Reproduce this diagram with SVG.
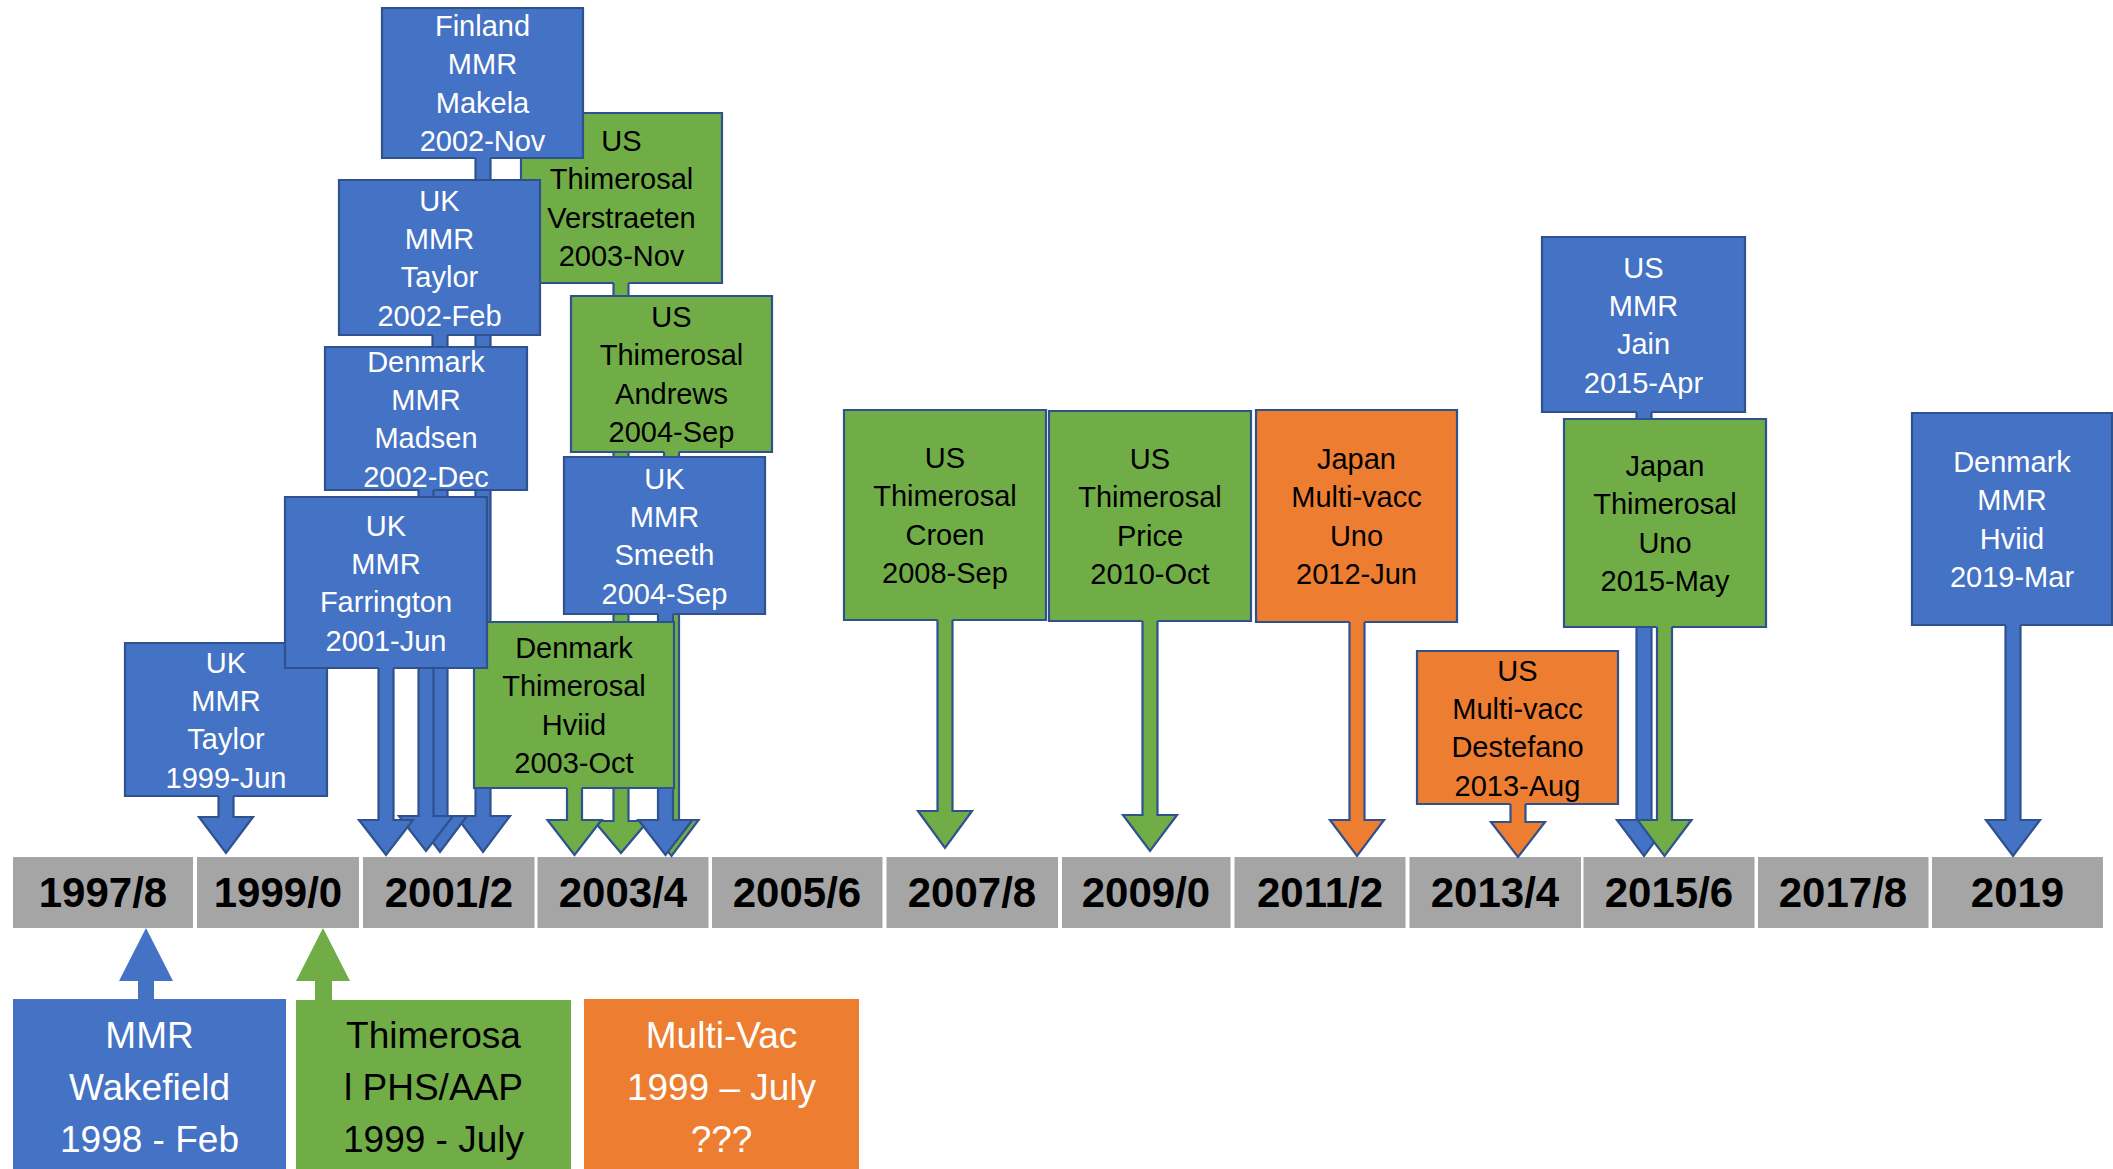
<svg xmlns="http://www.w3.org/2000/svg" width="2113" height="1169" viewBox="0 0 2113 1169">
<style>
.bg{fill:#FFFFFF}
.seg{fill:#A5A5A5}
.yr{font-family:"Liberation Sans",Arial,sans-serif;font-weight:bold;font-size:42px;fill:#000;text-anchor:middle}
.box{stroke:#2F528F;stroke-width:2.2;stroke-linejoin:miter}
.arr{stroke:#2F528F;stroke-width:2.2;stroke-linejoin:miter}
.blue{fill:#4472C4}
.green{fill:#70AD47}
.orange{fill:#ED7D31}
.t{font-family:"Liberation Sans",Arial,sans-serif;font-size:29px;text-anchor:middle}
.tb{font-family:"Liberation Sans",Arial,sans-serif;font-size:37px;text-anchor:middle}
.w{fill:#FFFFFF}
.k{fill:#000000}
</style>
<rect class="bg" x="0" y="0" width="2113" height="1169"/>

<g id="timeline">
<rect class="seg" x="13" y="857" width="180" height="71"/>
<rect class="seg" x="197" y="857" width="162" height="71"/>
<rect class="seg" x="363" y="857" width="171.5" height="71"/>
<rect class="seg" x="537.5" y="857" width="171" height="71"/>
<rect class="seg" x="712" y="857" width="170.5" height="71"/>
<rect class="seg" x="886.5" y="857" width="171.5" height="71"/>
<rect class="seg" x="1062" y="857" width="168.5" height="71"/>
<rect class="seg" x="1234.5" y="857" width="171" height="71"/>
<rect class="seg" x="1409.5" y="857" width="171.5" height="71"/>
<rect class="seg" x="1583.5" y="857" width="171" height="71"/>
<rect class="seg" x="1758" y="857" width="170.5" height="71"/>
<rect class="seg" x="1932" y="857" width="171" height="71"/>
<text class="yr" x="103" y="907">1997/8</text>
<text class="yr" x="278" y="907">1999/0</text>
<text class="yr" x="449" y="907">2001/2</text>
<text class="yr" x="623" y="907">2003/4</text>
<text class="yr" x="797" y="907">2005/6</text>
<text class="yr" x="972" y="907">2007/8</text>
<text class="yr" x="1146" y="907">2009/0</text>
<text class="yr" x="1320" y="907">2011/2</text>
<text class="yr" x="1495" y="907">2013/4</text>
<text class="yr" x="1669" y="907">2015/6</text>
<text class="yr" x="1843" y="907">2017/8</text>
<text class="yr" x="2017.5" y="907">2019</text>
</g>

<g id="connectors">
<path class="arr blue" d="M218.5 796 V817 H199 L226 853 L253 817 H233.5 V796"/>
<path class="arr green" d="M613.5 283 V821 H594 L621 853 L648 821 H628.5 V283"/>
<path class="arr blue" d="M475.5 158 V816 H456 L483 852 L510 816 H490.5 V158"/>
<path class="arr blue" d="M432.5 335 V816 H413 L440 852 L467 816 H447.5 V335"/>
<path class="arr green" d="M664 452 V820 H644.5 L671.5 856 L698.5 820 H679 V452"/>
<path class="arr blue" d="M418.5 490 V816 H399 L426 851 L453 816 H433.5 V490"/>
<path class="arr blue" d="M658 614 V820 H638.5 L665.5 855 L692.5 820 H673 V614"/>
<path class="arr green" d="M567 788 V820 H547.5 L574.5 855 L601.5 820 H582 V788"/>
<path class="arr blue" d="M378.5 668 V820 H359 L386 855 L413 820 H393.5 V668"/>
<path class="arr green" d="M937.5 620 V811 H918 L945 848 L972 811 H952.5 V620"/>
<path class="arr green" d="M1142.5 621 V815 H1123 L1150 851 L1177 815 H1157.5 V621"/>
<path class="arr orange" d="M1349.5 622 V820 H1330 L1357 856 L1384 820 H1364.5 V622"/>
<path class="arr orange" d="M1510.5 804 V822 H1491 L1518 857 L1545 822 H1525.5 V804"/>
<path class="arr blue" d="M1636.5 412 V820 H1617 L1644 856 L1671 820 H1651.5 V412"/>
<path class="arr green" d="M1657 627 V820 H1637.5 L1664.5 856 L1691.5 820 H1672 V627"/>
<path class="arr blue" d="M2005.5 625 V820 H1986 L2013 856 L2040 820 H2020.5 V625"/>
<polygon class="blue" points="138,1000 138,981 119,981 146,928 173,981 154,981 154,1000"/>
<polygon class="green" points="315,1001 315,981 296,981 323,928 350,981 332,981 332,1001"/>
</g>

<g id="n-taylor-1999">
<path class="box blue" d="M233.5 796 H327 V643 H125 V796 H218.5"/>
<text class="t w" x="226" y="672.5">UK</text>
<text class="t w" x="226" y="711">MMR</text>
<text class="t w" x="226" y="749.3">Taylor</text>
<text class="t w" x="226" y="787.5">1999-Jun</text>
</g>
<g id="n-verstraeten-2003">
<path class="box green" d="M628.5 283 H722 V113 H521 V283 H613.5"/>
<text class="t k" x="621.5" y="151">US</text>
<text class="t k" x="621.5" y="189.4">Thimerosal</text>
<text class="t k" x="621.5" y="227.7">Verstraeten</text>
<text class="t k" x="621.5" y="266">2003-Nov</text>
</g>
<g id="n-makela-2002">
<path class="box blue" d="M490.5 158 H583 V8 H382 V158 H475.5"/>
<text class="t w" x="482.5" y="36">Finland</text>
<text class="t w" x="482.5" y="74.4">MMR</text>
<text class="t w" x="482.5" y="112.7">Makela</text>
<text class="t w" x="482.5" y="151">2002-Nov</text>
</g>
<g id="n-taylor-2002">
<path class="box blue" d="M447.5 335 H540 V180 H339 V335 H432.5"/>
<text class="t w" x="439.5" y="210.5">UK</text>
<text class="t w" x="439.5" y="248.9">MMR</text>
<text class="t w" x="439.5" y="287.2">Taylor</text>
<text class="t w" x="439.5" y="325.5">2002-Feb</text>
</g>
<g id="n-andrews-2004">
<path class="box green" d="M679 452 H772 V296 H571 V452 H664"/>
<text class="t k" x="671.5" y="327">US</text>
<text class="t k" x="671.5" y="365.4">Thimerosal</text>
<text class="t k" x="671.5" y="403.7">Andrews</text>
<text class="t k" x="671.5" y="442">2004-Sep</text>
</g>
<g id="n-madsen-2002">
<path class="box blue" d="M433.5 490 H527 V347 H325 V490 H418.5"/>
<text class="t w" x="426" y="371.5">Denmark</text>
<text class="t w" x="426" y="409.9">MMR</text>
<text class="t w" x="426" y="448.2">Madsen</text>
<text class="t w" x="426" y="486.5">2002-Dec</text>
</g>
<g id="n-smeeth-2004">
<path class="box blue" d="M673 614 H765 V457 H564 V614 H658"/>
<text class="t w" x="664.5" y="488.5">UK</text>
<text class="t w" x="664.5" y="526.9">MMR</text>
<text class="t w" x="664.5" y="565.2">Smeeth</text>
<text class="t w" x="664.5" y="603.5">2004-Sep</text>
</g>
<g id="n-hviid-2003">
<path class="box green" d="M582 788 H674 V622 H474 V788 H567"/>
<text class="t k" x="574" y="658">Denmark</text>
<text class="t k" x="574" y="696.4">Thimerosal</text>
<text class="t k" x="574" y="734.7">Hviid</text>
<text class="t k" x="574" y="773">2003-Oct</text>
</g>
<g id="n-farrington-2001">
<path class="box blue" d="M393.5 668 H487 V497 H285 V668 H378.5"/>
<text class="t w" x="386" y="535.5">UK</text>
<text class="t w" x="386" y="573.9">MMR</text>
<text class="t w" x="386" y="612.2">Farrington</text>
<text class="t w" x="386" y="650.5">2001-Jun</text>
</g>
<g id="n-croen-2008">
<path class="box green" d="M952.5 620 H1046 V410 H844 V620 H937.5"/>
<text class="t k" x="945" y="468">US</text>
<text class="t k" x="945" y="506.4">Thimerosal</text>
<text class="t k" x="945" y="544.7">Croen</text>
<text class="t k" x="945" y="583">2008-Sep</text>
</g>
<g id="n-price-2010">
<path class="box green" d="M1157.5 621 H1251 V411 H1049 V621 H1142.5"/>
<text class="t k" x="1150" y="469">US</text>
<text class="t k" x="1150" y="507.4">Thimerosal</text>
<text class="t k" x="1150" y="545.7">Price</text>
<text class="t k" x="1150" y="584">2010-Oct</text>
</g>
<g id="n-uno-2012">
<path class="box orange" d="M1364.5 622 H1457 V410 H1256 V622 H1349.5"/>
<text class="t k" x="1356.5" y="469">Japan</text>
<text class="t k" x="1356.5" y="507.4">Multi-vacc</text>
<text class="t k" x="1356.5" y="545.7">Uno</text>
<text class="t k" x="1356.5" y="584">2012-Jun</text>
</g>
<g id="n-destefano-2013">
<path class="box orange" d="M1525.5 804 H1618 V651 H1417 V804 H1510.5"/>
<text class="t k" x="1517.5" y="680.5">US</text>
<text class="t k" x="1517.5" y="718.9">Multi-vacc</text>
<text class="t k" x="1517.5" y="757.2">Destefano</text>
<text class="t k" x="1517.5" y="795.5">2013-Aug</text>
</g>
<g id="n-jain-2015">
<path class="box blue" d="M1651.5 412 H1745 V237 H1542 V412 H1636.5"/>
<text class="t w" x="1643.5" y="277.5">US</text>
<text class="t w" x="1643.5" y="315.9">MMR</text>
<text class="t w" x="1643.5" y="354.2">Jain</text>
<text class="t w" x="1643.5" y="392.5">2015-Apr</text>
</g>
<g id="n-uno-2015">
<path class="box green" d="M1672 627 H1766 V419 H1564 V627 H1657"/>
<text class="t k" x="1665" y="476">Japan</text>
<text class="t k" x="1665" y="514.4">Thimerosal</text>
<text class="t k" x="1665" y="552.7">Uno</text>
<text class="t k" x="1665" y="591">2015-May</text>
</g>
<g id="n-hviid-2019">
<path class="box blue" d="M2020.5 625 H2112 V413 H1912 V625 H2005.5"/>
<text class="t w" x="2012" y="472">Denmark</text>
<text class="t w" x="2012" y="510.4">MMR</text>
<text class="t w" x="2012" y="548.7">Hviid</text>
<text class="t w" x="2012" y="587">2019-Mar</text>
</g>

<g id="legend-mmr">
<rect class="blue" x="13" y="999" width="273" height="180"/>
<text class="tb w" x="149.5" y="1048">MMR</text>
<text class="tb w" x="149.5" y="1100">Wakefield</text>
<text class="tb w" x="149.5" y="1151.5">1998 - Feb</text>
</g>
<g id="legend-thimerosal">
<rect class="green" x="296" y="1000" width="275" height="180"/>
<text class="tb k" x="433.5" y="1048">Thimerosa</text>
<text class="tb k" x="433.5" y="1100">l PHS/AAP</text>
<text class="tb k" x="433.5" y="1151.5">1999 - July</text>
</g>
<g id="legend-multivac">
<rect class="orange" x="584" y="999" width="275" height="180"/>
<text class="tb w" x="721.5" y="1048">Multi-Vac</text>
<text class="tb w" x="721.5" y="1100">1999 – July</text>
<text class="tb w" x="721.5" y="1151.5">???</text>
</g>
</svg>
